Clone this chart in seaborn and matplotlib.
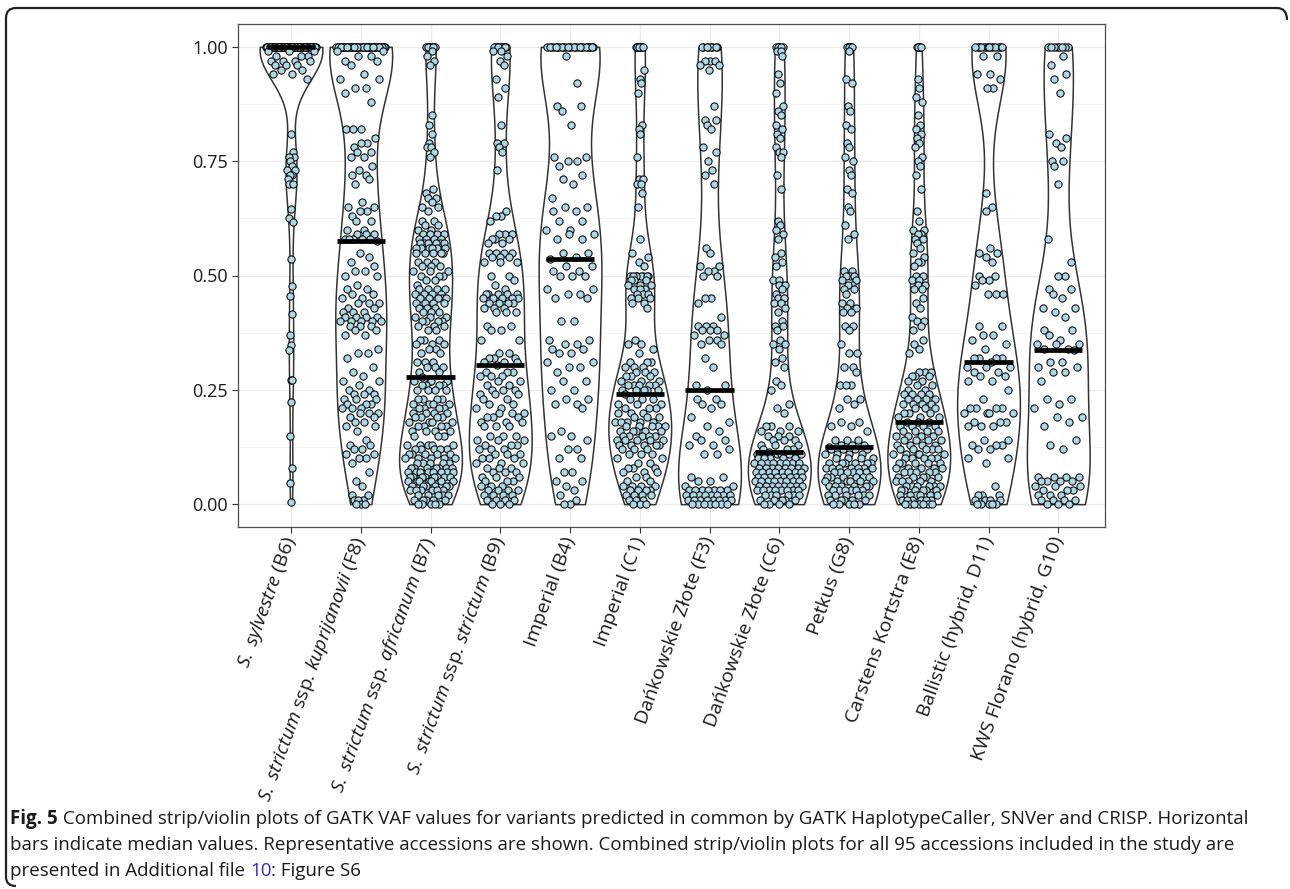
import numpy as np
import pandas as pd
import seaborn as sns
import matplotlib.pyplot as plt
from matplotlib.path import Path
from matplotlib.patches import PathPatch
from matplotlib.ticker import MultipleLocator, FormatStrFormatter

# VAF values as (value, count) pairs
sylvestre_b6 = [(1.00, 56), (0.99, 3), (0.98, 3), (0.97, 4), (0.96, 3), (0.95, 2), (0.94, 2), (0.93, 1),
                (0.81, 1), (0.77, 1), (0.76, 2), (0.75, 1), (0.74, 1), (0.73, 2), (0.72, 2), (0.71, 1), (0.70, 2),
                (0.645, 1), (0.625, 1), (0.617, 1), (0.535, 1), (0.477, 1), (0.456, 1), (0.416, 1), (0.369, 1),
                (0.348, 1), (0.337, 1), (0.271, 2), (0.223, 1), (0.149, 1), (0.080, 1), (0.046, 1), (0.005, 1)]
kuprijanovii_f8 = [(1.00, 45), (0.99, 2), (0.98, 2), (0.97, 2), (0.96, 1), (0.94, 1), (0.93, 2), (0.91, 2), (0.90, 1),
                   (0.88, 1), (0.82, 3), (0.80, 1), (0.79, 2), (0.78, 1), (0.77, 2), (0.76, 2), (0.74, 1), (0.73, 1),
                   (0.72, 2), (0.71, 1), (0.70, 1), (0.66, 1), (0.65, 2), (0.64, 2), (0.63, 1), (0.62, 2), (0.60, 2),
                   (0.59, 3), (0.58, 5), (0.575, 1),
                   (0.55, 1), (0.54, 1), (0.53, 1), (0.52, 1), (0.51, 2), (0.50, 2), (0.48, 1), (0.47, 2), (0.46, 2),
                   (0.45, 2), (0.44, 3), (0.43, 2), (0.42, 3), (0.41, 4), (0.40, 5), (0.39, 3), (0.38, 2), (0.37, 2),
                   (0.34, 1), (0.33, 2), (0.32, 1), (0.30, 1), (0.29, 1), (0.28, 1), (0.27, 2), (0.26, 1),
                   (0.25, 2), (0.24, 3), (0.23, 3), (0.22, 3), (0.21, 3), (0.20, 3), (0.19, 2), (0.18, 2), (0.17, 2),
                   (0.16, 1), (0.14, 1), (0.13, 2), (0.12, 2), (0.11, 2), (0.10, 2), (0.09, 1), (0.07, 1), (0.05, 1),
                   (0.04, 1), (0.02, 2), (0.01, 3), (0.00, 3)]
africanum_b7 = [(1.00, 10), (0.99, 1), (0.98, 1), (0.97, 1), (0.96, 1), (0.85, 1), (0.83, 1), (0.81, 1), (0.79, 1),
                (0.78, 2), (0.77, 1), (0.76, 1), (0.69, 1), (0.68, 1), (0.67, 2), (0.66, 1), (0.65, 2), (0.64, 1),
                (0.62, 2), (0.61, 2), (0.60, 2), (0.59, 4), (0.58, 4), (0.57, 6), (0.56, 6), (0.55, 5),
                (0.53, 3), (0.52, 3), (0.51, 3), (0.50, 3), (0.49, 2), (0.48, 1), (0.47, 4), (0.46, 4), (0.45, 5),
                (0.44, 4), (0.43, 3), (0.42, 3), (0.41, 3), (0.40, 4), (0.39, 3), (0.38, 2), (0.36, 3), (0.35, 3),
                (0.34, 2), (0.33, 2), (0.31, 3), (0.30, 3), (0.29, 2), (0.277, 1),
                (0.27, 4), (0.26, 4), (0.25, 4), (0.23, 4), (0.22, 4), (0.21, 4), (0.20, 4), (0.19, 4),
                (0.18, 4), (0.17, 4), (0.16, 4), (0.15, 3), (0.13, 5), (0.12, 5), (0.11, 5), (0.10, 5), (0.09, 5),
                (0.08, 7), (0.07, 8), (0.06, 8), (0.05, 7), (0.04, 6), (0.03, 6), (0.02, 5), (0.01, 5), (0.00, 5)]
strictum_b9 = [(1.00, 10), (0.99, 2), (0.98, 1), (0.97, 1), (0.96, 1), (0.93, 1), (0.91, 1), (0.89, 1), (0.83, 1),
               (0.79, 2), (0.78, 1), (0.77, 1), (0.73, 1), (0.64, 1), (0.63, 2), (0.62, 1), (0.59, 3), (0.58, 3),
               (0.57, 2), (0.55, 4), (0.54, 3), (0.53, 3), (0.50, 2), (0.49, 1), (0.48, 1), (0.47, 1), (0.46, 5),
               (0.45, 5), (0.44, 4), (0.43, 3), (0.42, 3), (0.39, 2), (0.38, 2), (0.36, 2), (0.33, 2), (0.32, 3),
               (0.31, 3), (0.304, 1),
               (0.29, 3), (0.28, 3), (0.27, 2), (0.26, 2), (0.25, 3), (0.24, 3), (0.23, 2), (0.22, 2), (0.21, 2),
               (0.20, 3), (0.19, 3), (0.18, 3), (0.17, 3), (0.15, 3), (0.14, 3), (0.13, 3), (0.12, 3), (0.11, 3),
               (0.10, 3), (0.09, 3), (0.08, 3), (0.07, 3), (0.06, 3), (0.05, 3), (0.04, 3), (0.03, 4), (0.02, 4),
               (0.01, 4), (0.00, 3)]
imperial_b4 = [(1.00, 25), (0.98, 1), (0.92, 1), (0.87, 2), (0.86, 1), (0.83, 1), (0.76, 2), (0.75, 2), (0.74, 1),
               (0.72, 1), (0.71, 1), (0.70, 1), (0.67, 1), (0.65, 2), (0.64, 2), (0.62, 2), (0.60, 2), (0.59, 2),
               (0.58, 2), (0.55, 2), (0.54, 1), (0.537, 1),
               (0.52, 2), (0.51, 2), (0.50, 3), (0.47, 2), (0.46, 2), (0.45, 2), (0.40, 2), (0.36, 2), (0.35, 2),
               (0.34, 2), (0.33, 2), (0.31, 2), (0.30, 2), (0.29, 1), (0.27, 2), (0.25, 2), (0.23, 2), (0.22, 2),
               (0.21, 1), (0.16, 1), (0.15, 2), (0.14, 1), (0.12, 2), (0.10, 2), (0.07, 2), (0.05, 2), (0.04, 1),
               (0.03, 1), (0.02, 1), (0.01, 1), (0.00, 2)]
imperial_c1 = [(1.00, 8), (0.95, 1), (0.93, 1), (0.92, 1), (0.90, 1), (0.83, 1), (0.82, 1), (0.81, 1), (0.76, 1),
               (0.71, 2), (0.70, 2), (0.68, 1), (0.65, 1), (0.58, 1), (0.55, 1), (0.54, 1), (0.53, 1), (0.52, 1),
               (0.50, 8), (0.49, 3), (0.48, 3), (0.47, 3), (0.46, 3), (0.45, 3), (0.44, 2), (0.43, 1), (0.36, 1),
               (0.35, 2), (0.34, 1), (0.33, 1), (0.31, 3), (0.30, 3), (0.29, 3), (0.28, 3), (0.27, 3), (0.26, 5),
               (0.25, 5), (0.240, 1),
               (0.23, 3), (0.22, 3), (0.21, 3), (0.20, 3), (0.19, 3), (0.18, 5), (0.17, 5), (0.16, 5), (0.15, 5),
               (0.14, 5), (0.13, 5), (0.12, 3), (0.11, 3), (0.10, 2), (0.09, 2), (0.08, 3), (0.07, 3), (0.06, 2),
               (0.05, 2), (0.04, 4), (0.03, 4), (0.02, 4), (0.01, 3), (0.00, 3)]
dankowskie_f3 = [(1.00, 8), (0.97, 3), (0.96, 2), (0.95, 1), (0.87, 1), (0.84, 2), (0.83, 1), (0.82, 1), (0.78, 1),
                 (0.77, 1), (0.75, 1), (0.73, 1), (0.72, 1), (0.70, 1), (0.56, 1), (0.55, 1), (0.52, 2), (0.51, 2),
                 (0.50, 2), (0.45, 2), (0.44, 1), (0.41, 1), (0.39, 3), (0.38, 3), (0.37, 2), (0.36, 2), (0.35, 2),
                 (0.32, 1), (0.30, 1), (0.26, 2), (0.25, 1),
                 (0.23, 2), (0.22, 2), (0.21, 1), (0.19, 1), (0.18, 1), (0.17, 1), (0.16, 1), (0.15, 1), (0.14, 2),
                 (0.13, 2), (0.12, 1), (0.11, 2), (0.06, 2), (0.05, 2), (0.04, 2), (0.03, 7), (0.02, 8), (0.01, 8),
                 (0.00, 7)]
dankowskie_c6 = [(1.00, 6), (0.99, 2), (0.98, 1), (0.94, 1), (0.92, 1), (0.90, 1), (0.87, 1), (0.86, 1), (0.85, 1),
                 (0.83, 1), (0.82, 1), (0.81, 1), (0.80, 1), (0.78, 1), (0.77, 2), (0.76, 1), (0.72, 1), (0.69, 1),
                 (0.62, 1), (0.61, 1), (0.60, 1), (0.59, 1), (0.58, 1), (0.55, 1), (0.54, 1), (0.53, 1), (0.52, 1),
                 (0.49, 2), (0.48, 2), (0.47, 1), (0.46, 1), (0.45, 2), (0.44, 2), (0.43, 1), (0.42, 1), (0.40, 1),
                 (0.39, 2), (0.38, 1), (0.36, 1), (0.35, 2), (0.34, 1), (0.32, 1), (0.31, 1), (0.30, 1), (0.27, 1),
                 (0.26, 1), (0.25, 1), (0.22, 1), (0.21, 1), (0.20, 1), (0.17, 3), (0.16, 3), (0.15, 3), (0.14, 3),
                 (0.13, 3), (0.12, 3), (0.113, 1),
                 (0.11, 5), (0.10, 5), (0.09, 8), (0.08, 8), (0.07, 8), (0.06, 8), (0.05, 8), (0.04, 8), (0.03, 8),
                 (0.02, 6), (0.01, 5), (0.00, 4)]
petkus_g8 = [(1.00, 6), (0.99, 1), (0.93, 1), (0.92, 1), (0.87, 1), (0.86, 1), (0.83, 1), (0.82, 1), (0.79, 1),
             (0.78, 1), (0.76, 1), (0.75, 1), (0.73, 1), (0.72, 1), (0.69, 1), (0.68, 1), (0.65, 1), (0.64, 1),
             (0.61, 1), (0.59, 1), (0.58, 1), (0.51, 2), (0.50, 3), (0.49, 2), (0.48, 2), (0.47, 2), (0.46, 1),
             (0.44, 2), (0.43, 2), (0.42, 2), (0.39, 2), (0.38, 1), (0.35, 1), (0.33, 2), (0.30, 2), (0.29, 1),
             (0.26, 3), (0.23, 2), (0.22, 1), (0.21, 1), (0.18, 2), (0.17, 2), (0.16, 1), (0.14, 3), (0.13, 3),
             (0.125, 1),
             (0.12, 4), (0.11, 4), (0.10, 4), (0.09, 6), (0.08, 7), (0.07, 6), (0.06, 6), (0.05, 6), (0.04, 6),
             (0.03, 6), (0.02, 6), (0.01, 5), (0.00, 5)]
carstens_e8 = [(1.00, 5), (0.93, 1), (0.91, 1), (0.89, 1), (0.88, 1), (0.85, 1), (0.83, 1), (0.82, 1), (0.81, 1),
               (0.80, 1), (0.79, 1), (0.78, 1), (0.76, 1), (0.75, 1), (0.74, 1), (0.72, 1), (0.69, 1), (0.64, 1),
               (0.62, 1), (0.60, 2), (0.59, 2), (0.58, 2), (0.57, 1), (0.56, 1), (0.55, 1), (0.54, 1), (0.53, 2),
               (0.52, 1), (0.50, 2), (0.49, 2), (0.48, 2), (0.47, 2), (0.45, 1), (0.44, 1), (0.43, 1), (0.41, 1),
               (0.40, 2), (0.39, 1), (0.38, 1), (0.36, 1), (0.35, 1), (0.34, 1), (0.33, 1), (0.29, 3), (0.28, 3),
               (0.27, 2), (0.26, 2), (0.25, 2), (0.24, 4), (0.23, 4), (0.22, 4), (0.21, 3), (0.20, 3), (0.19, 3),
               (0.18, 3),
               (0.17, 4), (0.16, 4), (0.15, 4), (0.14, 4), (0.13, 4), (0.12, 5), (0.11, 5), (0.10, 5), (0.09, 5),
               (0.08, 5), (0.07, 5), (0.06, 5), (0.05, 5), (0.04, 6), (0.03, 6), (0.02, 6), (0.01, 6), (0.00, 7)]
ballistic_d11 = [(1.00, 14), (0.98, 2), (0.94, 2), (0.93, 1), (0.91, 2), (0.68, 1), (0.65, 1), (0.64, 1), (0.56, 1),
                 (0.55, 2), (0.54, 1), (0.53, 1), (0.50, 2), (0.49, 2), (0.48, 1), (0.46, 3), (0.39, 2), (0.37, 2),
                 (0.36, 1), (0.35, 1), (0.34, 1), (0.32, 4), (0.31, 1),
                 (0.30, 3), (0.29, 2), (0.28, 2), (0.27, 2), (0.25, 1), (0.23, 1), (0.21, 4), (0.20, 4), (0.18, 3),
                 (0.17, 3), (0.14, 2), (0.13, 3), (0.12, 2), (0.10, 2), (0.09, 1), (0.04, 1), (0.02, 3), (0.01, 4),
                 (0.00, 5)]
kws_g10 = [(1.00, 8), (0.98, 1), (0.96, 1), (0.94, 1), (0.93, 1), (0.90, 1), (0.81, 1), (0.80, 1), (0.79, 1),
           (0.78, 1), (0.75, 2), (0.74, 1), (0.70, 1), (0.58, 1), (0.53, 1), (0.50, 2), (0.47, 2), (0.46, 1),
           (0.45, 1), (0.43, 2), (0.42, 1), (0.41, 1), (0.38, 2), (0.37, 1), (0.36, 1), (0.35, 3), (0.34, 2),
           (0.338, 1),
           (0.31, 2), (0.30, 2), (0.29, 2), (0.27, 1), (0.23, 2), (0.22, 1), (0.21, 1), (0.19, 2), (0.18, 1),
           (0.17, 1), (0.14, 1), (0.13, 1), (0.12, 1), (0.06, 4), (0.05, 4), (0.04, 3), (0.03, 3), (0.02, 3),
           (0.01, 4), (0.00, 3)]

groups = [sylvestre_b6, kuprijanovii_f8, africanum_b7, strictum_b9, imperial_b4, imperial_c1,
          dankowskie_f3, dankowskie_c6, petkus_g8, carstens_e8, ballistic_d11, kws_g10]
keys = ["B6", "F8", "B7", "B9", "B4", "C1", "F3", "C6", "G8", "E8", "D11", "G10"]
labels = [r"$\it{S.}$ $\it{sylvestre}$ (B6)",
          r"$\it{S.}$ $\it{strictum}$ ssp. $\it{kuprijanovii}$ (F8)",
          r"$\it{S.}$ $\it{strictum}$ ssp. $\it{africanum}$ (B7)",
          r"$\it{S.}$ $\it{strictum}$ ssp. $\it{strictum}$ (B9)",
          "Imperial (B4)", "Imperial (C1)", "Dańkowskie Złote (F3)", "Dańkowskie Złote (C6)",
          "Petkus (G8)", "Carstens Kortstra (E8)", "Ballistic (hybrid, D11)", "KWS Florano (hybrid, G10)"]

rows = []
for k, pairs in zip(keys, groups):
    for v, c in pairs:
        rows += [(k, v)] * c
df = pd.DataFrame(rows, columns=["acc", "vaf"])

sns.set_theme(style="white")
plt.rcParams["font.family"] = ["Open Sans", "DejaVu Sans"]
plt.rcParams["mathtext.fontset"] = "custom"
plt.rcParams["mathtext.rm"] = "Open Sans"
plt.rcParams["mathtext.it"] = "Open Sans:italic"

fig = plt.figure(figsize=(12.9, 8.89), dpi=100)
ax = fig.add_axes([238 / 1290, 1 - 527 / 889, 867 / 1290, 503 / 889])


def nrd0(x):
    # R's default bandwidth, like ggplot's geom_violin
    lo = min(x.std(ddof=1), (np.percentile(x, 75) - np.percentile(x, 25)) / 1.34)
    return 0.9 * lo * len(x) ** -0.2


def vdc(k):
    q, d = 0.0, 1.0
    while k:
        d *= 2
        k, r = divmod(k, 2)
        q += r / d
    return q


px, py = [], []
for i, k in enumerate(keys):
    vals = df.loc[df.acc == k, "vaf"].to_numpy()
    h = nrd0(vals)
    sns.violinplot(data=df[df.acc == k], x="acc", y="vaf", order=keys, ax=ax,
                   bw_method=h / vals.std(ddof=1), cut=0, density_norm="width", width=0.9,
                   inner=None, color="white", saturation=1, linecolor="#333333", linewidth=1.1)
    # sina-style spread: offsets follow the violin's own density
    grid = np.linspace(vals.min(), vals.max(), 200)
    dens = lambda y: np.exp(-0.5 * ((y[:, None] - vals[None, :]) / h) ** 2).sum(1)
    w = dens(vals) / dens(grid).max()
    u = np.empty(len(vals))
    u[np.argsort(vals, kind="stable")] = [2 * vdc(j + 1) - 1 for j in range(len(vals))]
    px.extend(i + u * 0.45 * 0.82 * w)
    py.extend(vals)

ax.scatter(px, py, s=27, facecolor="#ADD8E6", edgecolor="black", linewidth=0.75, zorder=3)

meds = df.groupby("acc", sort=False)["vaf"].median().reindex(keys).to_numpy()
ax.hlines(meds, np.arange(12) - 0.345, np.arange(12) + 0.345, colors="black", lw=3.4, zorder=4)

ax.set_xlim(-0.76, 11.67)
ax.set_ylim(-0.05, 1.05)
ax.set_xlabel("")
ax.set_ylabel("")
ax.yaxis.set_major_locator(MultipleLocator(0.25))
ax.yaxis.set_minor_locator(MultipleLocator(0.125))
ax.yaxis.set_major_formatter(FormatStrFormatter("%.2f"))
ax.set_axisbelow(True)
ax.grid(which="major", color="#EBEBEB", lw=1.0)
ax.grid(which="minor", axis="y", color="#F4F4F4", lw=0.8)
ax.tick_params(which="major", direction="out", length=4, width=0.8, color="#333333",
               labelcolor="#1a1a1a", left=True, bottom=True)
ax.tick_params(axis="y", labelsize=13)
ax.tick_params(axis="x", labelsize=14)
ax.tick_params(which="minor", length=0)
ax.set_xticks(range(12))
ax.set_xticklabels(labels, rotation=70, ha="right", va="center", rotation_mode="anchor")
for s in ax.spines.values():
    s.set_color("#4d4d4d")
    s.set_linewidth(0.9)

# caption
r = fig.canvas.get_renderer()
fs = 13.5


def runs(y, parts):
    x = 10 / 1290
    for txt, kw in parts:
        opts = {"fontsize": fs, "va": "center", "ha": "left", "color": "#1a1a1a"}
        opts.update(kw)
        t = fig.text(x, 1 - y / 889, txt, **opts)
        x = fig.transFigure.inverted().transform(t.get_window_extent(r))[1][0]


runs(819, [("Fig. 5", {"weight": "bold"}),
           (" Combined strip/violin plots of GATK VAF values for variants predicted in common by GATK "
            "HaplotypeCaller, SNVer and CRISP. Horizontal", {})])
runs(845, [("bars indicate median values. Representative accessions are shown. Combined strip/violin plots "
            "for all 95 accessions included in the study are", {})])
runs(871, [("presented in Additional file ", {}), ("10", {"color": "#2a2ae0"}), (": Figure S6", {})])

# rounded frame on top / left
W, H = 1290, 889
pts = [(1287, 20), (1287, 8), (1277, 8), (16, 8), (6, 8), (6, 18), (6, 877), (6, 886), (16, 886)]
codes = [Path.MOVETO, Path.CURVE3, Path.CURVE3, Path.LINETO, Path.CURVE3, Path.CURVE3,
         Path.LINETO, Path.CURVE3, Path.CURVE3]
path = Path([(x / W, 1 - y / H) for x, y in pts], codes)
fig.patches.append(PathPatch(path, fill=False, lw=1.6, ec="#222222", transform=fig.transFigure))

fig.savefig("out.png", dpi=100)
